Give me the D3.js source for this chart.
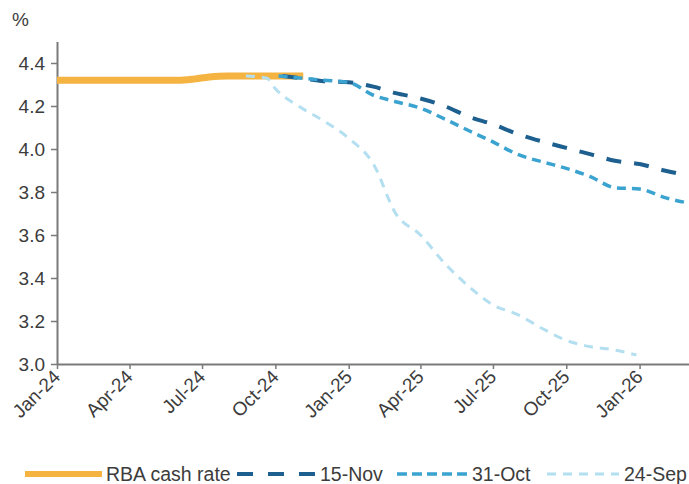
<!DOCTYPE html>
<html><head><meta charset="utf-8">
<script src="https://cdn.jsdelivr.net/npm/d3@7"></script>
<style>
body{margin:0;background:#fff}
svg{display:block}
text{font-family:"Liberation Sans",Arial,sans-serif;fill:#3c3c3c}
</style>
</head><body>
<svg id="c" width="689" height="484"></svg>
<script>
// ---- data ----
const xTickDates = ["2024-01-01","2024-04-01","2024-07-01","2024-10-01","2025-01-01","2025-04-01","2025-07-01","2025-10-01","2026-01-01"];
const xTickLabels = ["Jan-24","Apr-24","Jul-24","Oct-24","Jan-25","Apr-25","Jul-25","Oct-25","Jan-26"];
const yTicks = [3.0,3.2,3.4,3.6,3.8,4.0,4.2,4.4];

const rbaDates  = ["2024-01-01","2024-02-01","2024-03-01","2024-04-01","2024-05-01","2024-06-01","2024-06-20","2024-07-10","2024-08-01","2024-09-01","2024-10-01","2024-11-05"];
const rbaValues = [4.32,4.32,4.32,4.32,4.32,4.32,4.325,4.335,4.34,4.34,4.34,4.34];

const nov15Dates  = ["2024-10-10","2024-11-01","2024-12-01","2025-01-01","2025-02-01","2025-03-01","2025-04-01","2025-05-01","2025-06-01","2025-07-01","2025-08-01","2025-09-01","2025-10-01","2025-11-01","2025-12-01","2026-01-01","2026-02-01","2026-03-01"];
const nov15Values = [4.34,4.33,4.315,4.31,4.29,4.26,4.235,4.20,4.15,4.115,4.07,4.035,4.005,3.975,3.945,3.93,3.90,3.878];

const oct31Dates  = ["2024-10-05","2024-11-01","2024-12-01","2025-01-01","2025-02-01","2025-03-01","2025-04-01","2025-05-01","2025-06-01","2025-07-01","2025-08-01","2025-09-01","2025-10-01","2025-11-01","2025-12-01","2026-01-01","2026-02-01","2026-03-01"];
const oct31Values = [4.34,4.33,4.32,4.31,4.25,4.22,4.19,4.14,4.085,4.033,3.975,3.94,3.91,3.87,3.82,3.814,3.775,3.75];

const sep24Dates  = ["2024-08-25","2024-09-20","2024-10-01","2024-11-01","2024-12-01","2025-01-01","2025-02-01","2025-03-01","2025-04-01","2025-05-01","2025-06-01","2025-07-01","2025-08-01","2025-09-01","2025-10-01","2025-11-01","2025-12-01","2025-12-28"];
const sep24Values = [4.34,4.33,4.28,4.195,4.13,4.05,3.93,3.70,3.60,3.47,3.36,3.275,3.23,3.165,3.11,3.08,3.065,3.042];

const seriesNames = ["RBA cash rate","15-Nov","31-Oct","24-Sep"];
const seriesColors = ["#f5b342","#1d5f8f","#3aa3d0","#b3dff0"];

// ---- chart ----
const parse = d3.utcParse("%Y-%m-%d");
const svg = d3.select("#c");
const W = 689;
const x = d3.scaleUtc().domain([parse("2024-01-01"), parse("2026-03-04")]).range([57, 689]);
const y = d3.scaleLinear().domain([3.0, 4.5]).range([364, 41.5]);

const styles = [
  {w:7, dash:null},
  {w:4, dash:"15,13"},
  {w:3.5, dash:"9,6"},
  {w:3, dash:"9,7"}
];

const mk = (ds, vs) => ds.map((d,i)=>({d:parse(d), v:vs[i]}));
const series = [mk(rbaDates,rbaValues), mk(nov15Dates,nov15Values), mk(oct31Dates,oct31Values), mk(sep24Dates,sep24Values)];

svg.append("defs").append("clipPath").attr("id","clip")
  .append("rect").attr("x",57).attr("y",0).attr("width",W-57).attr("height",364);

// axes
const yAxis = svg.append("g").attr("transform","translate(57,0)")
  .call(d3.axisLeft(y).tickValues(yTicks).tickFormat(d3.format(".1f")).tickSize(6).tickSizeOuter(0));
yAxis.selectAll("text").attr("font-size",19).attr("x",-12).attr("dy","0.36em");

const xAxis = svg.append("g").attr("transform","translate(0,364)")
  .call(d3.axisBottom(x).tickValues(xTickDates.map(parse)).tickFormat((d,i)=>xTickLabels[i]).tickSize(5).tickSizeOuter(0));
xAxis.selectAll("text").attr("font-size",19)
  .attr("text-anchor","end").attr("dy",null).attr("y",0)
  .attr("transform","translate(4,14) rotate(-45)");

svg.selectAll(".domain").attr("stroke","#7a7a7a").attr("stroke-width",2);
svg.selectAll(".tick line").attr("stroke","#7a7a7a").attr("stroke-width",1.5);

svg.append("text").attr("x",12).attr("y",26).attr("font-size",19).text("%");

// lines
const line = d3.line().x(p=>x(p.d)).y(p=>y(p.v)).curve(d3.curveMonotoneX);
const g = svg.append("g").attr("clip-path","url(#clip)");
series.forEach((s,i)=>{
  g.append("path").datum(s).attr("d",line).attr("fill","none")
    .attr("stroke",seriesColors[i]).attr("stroke-width",styles[i].w)
    .attr("stroke-dasharray",styles[i].dash);
});

// legend
const legX = [[25,102,106],[237,315,320],[397,467,472],[547,619,624]];
const leg = svg.append("g");
seriesNames.forEach((n,i)=>{
  leg.append("line").attr("x1",legX[i][0]).attr("x2",legX[i][1]).attr("y1",474).attr("y2",474)
    .attr("stroke",seriesColors[i]).attr("stroke-width",i===0?6:styles[i].w)
    .attr("stroke-dasharray",i===0?null:(i===1?"16,15":(i===2?"10,5":"9,7")));
  leg.append("text").attr("x",legX[i][2]).attr("y",474).attr("dy","0.36em").attr("font-size",19.5).text(n);
});
</script>
</body></html>
